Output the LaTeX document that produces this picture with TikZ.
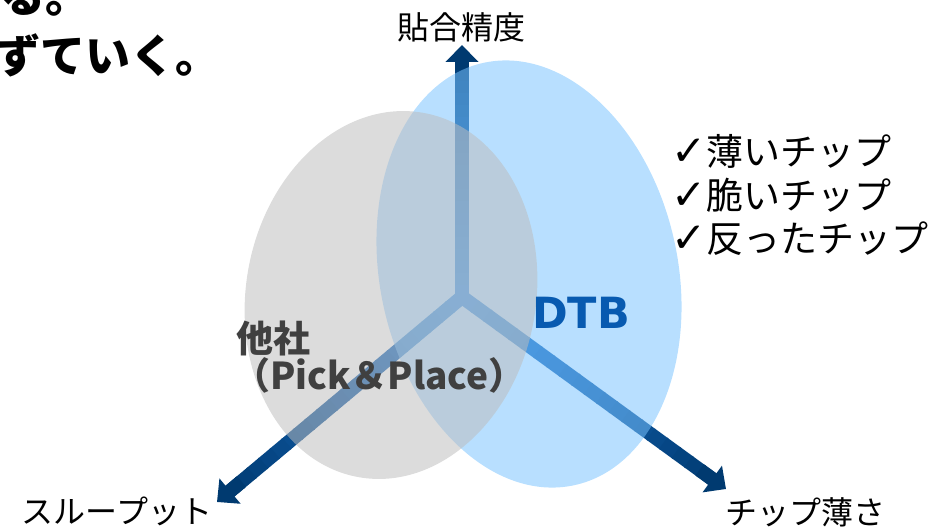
\documentclass[tikz,border=0pt]{standalone}
\usepackage{fontspec}
\setmainfont{Noto Sans CJK JP}
\newfontfamily\symfont{DejaVu Sans}
\usetikzlibrary{arrows.meta,calc}

\definecolor{axmid}{RGB}{30,120,215}
\definecolor{axtip}{RGB}{0,58,112}
\definecolor{dtbfill}{RGB}{121,195,255}
\definecolor{otherfill}{RGB}{189,189,189}
\definecolor{dtbtext}{RGB}{8,90,176}
\definecolor{othertext}{RGB}{64,64,64}

\begin{document}
\begin{tikzpicture}[x=1pt, y=-1pt]

        % Styles
        \tikzstyle{shaft} = [line width=14pt]
        \tikzstyle{axlabel} = [inner sep=0pt, font=\fontsize{32}{36}\selectfont]
        \tikzstyle{lead} = [inner sep=0pt, anchor=base west, font=\fontsize{45}{50}\selectfont\bfseries]
        \tikzstyle{check} = [inner sep=0pt, anchor=base west, font=\fontsize{37}{42}\selectfont]
        \tikzstyle{other} = [inner sep=0pt, anchor=base west, text=othertext, font=\fontsize{37}{40}\selectfont\bfseries]

        \useasboundingbox (0,0) rectangle (935,527);
        \clip (0,0) rectangle (935,527);

        % Axes
        \coordinate (o) at (462,297);
        \coordinate (up) at (462,45);
        \coordinate (sl) at (217,502);
        \coordinate (sr) at (726,489);
        \foreach \ax in {up,sl,sr}{
            \foreach \k [evaluate=\k as \pct using int(5*\k),
                         evaluate=\k as \ka using \k/21,
                         evaluate=\k as \kb using (\k+1.1)/21] in {0,...,19}
                \draw[shaft, draw=axtip!\pct!axmid] ($(o)!\ka!(\ax)$) -- ($(o)!\kb!(\ax)$);
            \draw[shaft, draw=axtip, -{Triangle[length=17pt, width=32pt]}] ($(o)!0.9!(\ax)$) -- (\ax);
        }
        \fill[axmid] (o) circle (7pt);

        % Regions
        \fill[dtbfill, opacity=0.53, rotate around={12:(529,274)}] (529,274) ellipse (149pt and 216pt);
        \fill[otherfill, opacity=0.53, rotate around={-10:(391,295)}] (391,295) ellipse (145pt and 185pt);

        % Axis labels
        \node[axlabel] (accuracy) at (461,27) {貼合精度};
        \node[axlabel] (throughput) at (117,511) {スループット};
        \node[axlabel] (thinness) at (805,512) {チップ薄さ};

        % Region labels
        \node[inner sep=0pt, text=dtbtext, font=\symfont\fontsize{43}{46}\selectfont\bfseries] (dtb) at (581,313) {DTB};
        \node[other] (other1) at (236,352) {他社};
        \node[other] (other2) at (233,389) {（Pick＆Place）};

        % Checklist
        \node[check] (chk1) at (671,165) {{\symfont\fontsize{42}{44}\selectfont ✓}薄いチップ};
        \node[check] (chk2) at (671,209) {{\symfont\fontsize{42}{44}\selectfont ✓}脆いチップ};
        \node[check] (chk3) at (671,252) {{\symfont\fontsize{42}{44}\selectfont ✓}反ったチップ};

        % Lead text (cut off)
        \node[lead] (lead1) at (0,13) {る。};
        \node[lead] (lead2) at (-5,73) {ずていく。};

\end{tikzpicture}
\end{document}
